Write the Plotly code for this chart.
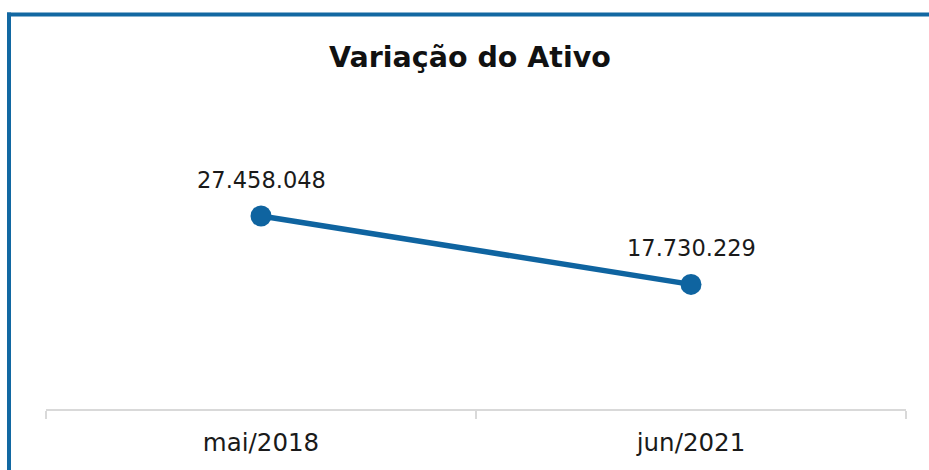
import plotly.graph_objects as go

categories = ["mai/2018", "jun/2021"]
values = [27458048, 17730229]
value_labels = ["27.458.048", "17.730.229"]
title_text = "Variação do Ativo"

BLUE = "#0F64A0"
FONT = "DejaVu Sans"

W, H = 929, 470
ML, MR, MT, MB = 46, 23, 163, 61
pw, ph = W - ML - MR, H - MT - MB

fig = go.Figure()
fig.add_trace(go.Scatter(
    x=categories, y=values, mode="lines+markers",
    line=dict(color=BLUE, width=5.5),
    marker=dict(color=BLUE, size=21),
    hoverinfo="skip", showlegend=False, cliponaxis=False,
))

for c, v, t in zip(categories, values, value_labels):
    fig.add_annotation(x=c, y=v, text=t, showarrow=False, yshift=36,
                       xanchor="center", yanchor="middle",
                       font=dict(family=FONT, size=22.5, color="#1a1a1a"))

# title
fig.add_annotation(xref="paper", yref="paper", x=(470 - ML) / pw, y=(H - MB - 57.5) / ph,
                   text="<b>" + title_text + "</b>", showarrow=False,
                   xanchor="center", yanchor="middle",
                   font=dict(family=FONT, size=28.5, color="#111111"))

# outer border (left and top visible)
bx = (9 - ML) / pw
by = (H - MB - 14.5) / ph
fig.add_shape(type="line", xref="paper", yref="paper",
              x0=bx, x1=bx, y0=(H - MB - 520) / ph, y1=by + 2 / ph,
              line=dict(color="#1268A2", width=4), layer="below")
fig.add_shape(type="line", xref="paper", yref="paper",
              x0=bx - 2 / pw, x1=(1000 - ML) / pw, y0=by, y1=by,
              line=dict(color="#1268A2", width=4), layer="below")

fig.update_layout(
    width=W, height=H,
    margin=dict(l=ML, r=MR, t=MT, b=MB),
    paper_bgcolor="white", plot_bgcolor="white",
    xaxis=dict(type="category", range=[-0.5, 1.5], showgrid=False, zeroline=False,
               showline=True, linecolor="#d9d9d9", linewidth=2,
               ticks="outside", tickson="boundaries", ticklen=8, tickwidth=2,
               tickcolor="#d9d9d9", ticklabelstandoff=11,
               tickfont=dict(family=FONT, size=24.5, color="#1a1a1a"), fixedrange=True),
    yaxis=dict(range=[0, 35000000], visible=False, fixedrange=True),
)

fig.write_html("out.html", config={"displayModeBar": False},
               post_script="document.body.style.margin='0';document.body.style.overflow='hidden';")
